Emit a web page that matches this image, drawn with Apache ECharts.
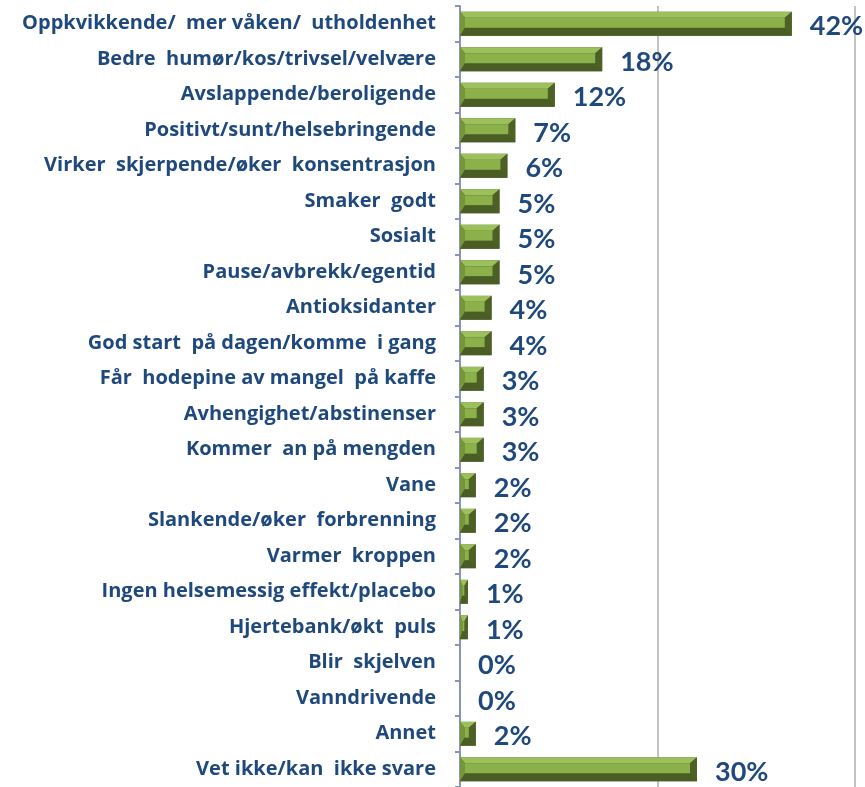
<!DOCTYPE html>
<html>
<head>
<meta charset="utf-8">
<script src="https://cdn.jsdelivr.net/npm/echarts@6/dist/echarts.min.js"></script>
<style>
  html, body { margin: 0; padding: 0; background: #ffffff; }
  #chart { width: 865px; height: 787px; }
</style>
</head>
<body>
<div id="chart"></div>
<script>
// Reasons given for the effect of coffee, share of respondents (%)
const categories = [
  'Oppkvikkende/  mer våken/  utholdenhet',
  'Bedre  humør/kos/trivsel/velvære',
  'Avslappende/beroligende',
  'Positivt/sunt/helsebringende',
  'Virker  skjerpende/øker  konsentrasjon',
  'Smaker  godt',
  'Sosialt',
  'Pause/avbrekk/egentid',
  'Antioksidanter',
  'God start  på dagen/komme  i gang',
  'Får  hodepine av mangel  på kaffe',
  'Avhengighet/abstinenser',
  'Kommer  an på mengden',
  'Vane',
  'Slankende/øker  forbrenning',
  'Varmer  kroppen',
  'Ingen helsemessig effekt/placebo',
  'Hjertebank/økt  puls',
  'Blir  skjelven',
  'Vanndrivende',
  'Annet',
  'Vet ikke/kan  ikke svare'
];
const values = [42, 18, 12, 7, 6, 5, 5, 5, 4, 4, 3, 3, 3, 2, 2, 2, 1, 1, 0, 0, 2, 30];
const axisTicks = [0, 25, 50];

const seriesData = values.map((v, i) => [v, i]);

const labelColor = '#1f497d';

// Bevelled bar: light top face, medium left edge, dark right and bottom edges
function renderBar(params, api) {
  const v = api.value(0);
  const idx = api.value(1);
  const base = api.coord([0, idx]);
  const end = api.coord([v, idx]);
  const band = api.size([0, 1])[1];
  const h = band * 0.67;
  const x0 = base[0];
  const x1 = end[0];
  const y0 = base[1] - h / 2;
  const y1 = base[1] + h / 2;
  const w = x1 - x0;
  const children = [];
  if (w > 0.5) {
    const bl = Math.min(5, w * 0.3);
    const br = Math.min(7, w * 0.45);
    const bt = 6, bb = 8;
    children.push(
      { type: 'rect', shape: { x: x0, y: y0, width: w, height: h }, style: { fill: '#4f6228' } },
      { type: 'polygon', shape: { points: [[x0, y0], [x1, y0], [x1 - br, y0 + bt], [x0 + bl, y0 + bt]] }, style: { fill: '#9cc05c' } },
      { type: 'polygon', shape: { points: [[x0, y0], [x0 + bl, y0 + bt], [x0 + bl, y1 - bb], [x0, y1]] }, style: { fill: '#76963b' } },
      { type: 'polygon', shape: { points: [[x1, y0], [x1, y1], [x1 - br, y1 - bb], [x1 - br, y0 + bt]] }, style: { fill: '#4d6127' } },
      { type: 'polygon', shape: { points: [[x0, y1], [x0 + bl, y1 - bb], [x1 - br, y1 - bb], [x1, y1]] }, style: { fill: '#4a5d25' } },
      { type: 'rect', shape: { x: x0 + bl, y: y0 + bt, width: Math.max(0, w - bl - br), height: h - bt - bb }, style: { fill: '#8db14a' } }
    );
  }
  children.push({
    type: 'text',
    style: {
      x: x1 + 18,
      y: base[1] + 3,
      text: v + '%',
      fill: labelColor,
      font: 'bold 27px Lato, "Open Sans", sans-serif',
      verticalAlign: 'middle',
      align: 'left'
    }
  });
  return { type: 'group', children: children };
}

const chart = echarts.init(document.getElementById('chart'), null, { renderer: 'canvas' });
chart.setOption({
  animation: false,
  backgroundColor: '#ffffff',
  grid: { left: 460, right: 10, top: 6, bottom: -3, containLabel: false },
  xAxis: {
    type: 'value',
    min: axisTicks[0],
    max: axisTicks[axisTicks.length - 1],
    interval: axisTicks[1] - axisTicks[0],
    axisLabel: { show: false },
    axisLine: { show: false },
    axisTick: { show: false },
    splitLine: { show: true, lineStyle: { color: '#c3c3c3', width: 2 } }
  },
  yAxis: {
    type: 'category',
    data: categories,
    inverse: true,
    axisLine: { show: true, lineStyle: { color: '#8b94b2', width: 2 } },
    axisTick: { show: true, length: 5, lineStyle: { color: '#8b94b2', width: 2 } },
    axisLabel: {
      margin: 24,
      color: labelColor,
      fontFamily: '"Open Sans", Lato, sans-serif',
      fontWeight: 'bold',
      fontSize: 20,
      lineHeight: 20,
      padding: [5, 0, 0, 0]
    }
  },
  series: [{
    type: 'custom',
    renderItem: renderBar,
    encode: { x: 0, y: 1 },
    data: seriesData,
    clip: false,
    z: 3
  }]
});
</script>
</body>
</html>
